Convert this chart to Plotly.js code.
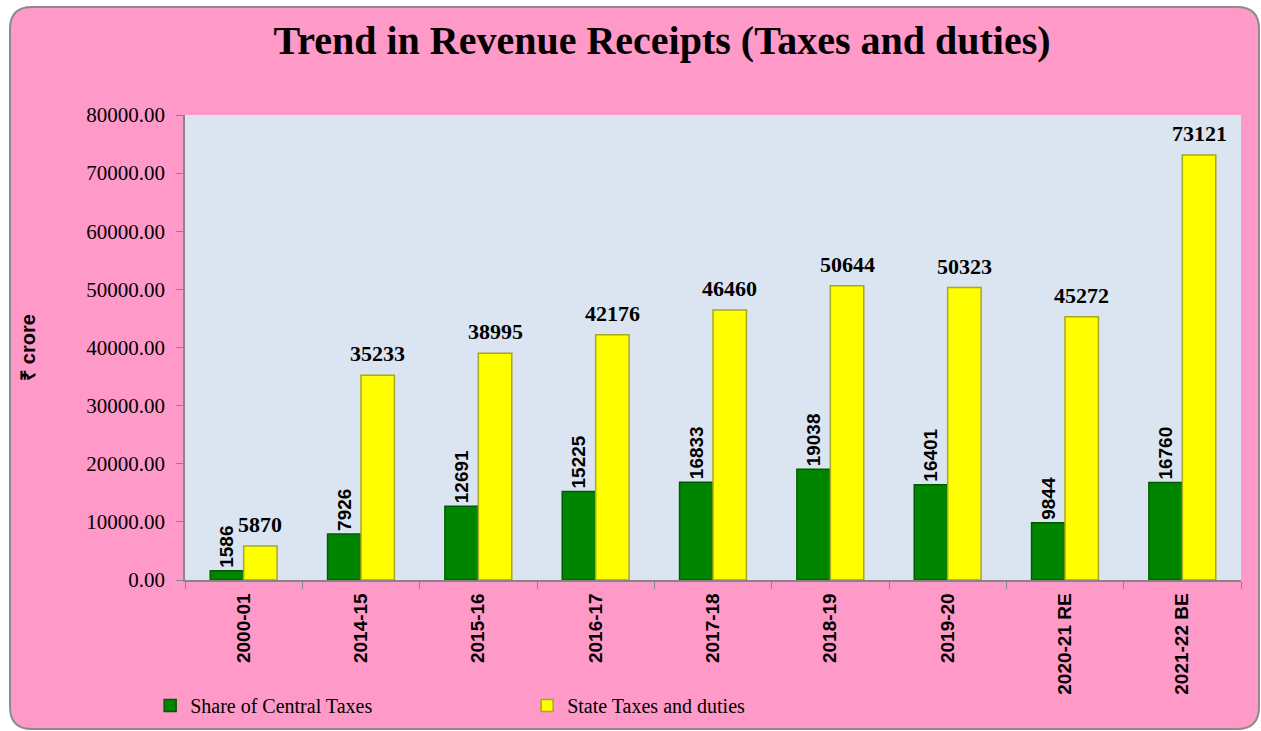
<!DOCTYPE html>
<html><head><meta charset="utf-8">
<script src="https://cdn.plot.ly/plotly-3.0.1.min.js"></script>
<style>html,body{margin:0;padding:0;background:#fff;}#chart{width:1261px;height:731px;}</style>
</head><body><div id="chart"></div>
<script>
const categories = ["2000-01","2014-15","2015-16","2016-17","2017-18","2018-19","2019-20","2020-21 RE","2021-22 BE"];
const centralShare = [1586,7926,12691,15225,16833,19038,16401,9844,16760];
const stateTaxes = [5870,35233,38995,42176,46460,50644,50323,45272,73121];
const seriesNames = ["Share of Central Taxes","State Taxes and duties"];

const traces = [
  {type:'bar', name:seriesNames[0], x:categories, y:centralShare,
   marker:{color:'#008500', line:{color:'#005a00', width:1.5}},
   text:centralShare.map(String), textposition:'outside', textangle:-90, constraintext:'none',
   textfont:{family:'Liberation Sans, Arial, sans-serif', size:19, color:'#000', weight:'bold'},
   cliponaxis:false, hoverinfo:'x+y'},
  {type:'bar', name:seriesNames[1], x:categories, y:stateTaxes,
   marker:{color:'#ffff00', line:{color:'#a8a820', width:1.5}},
   cliponaxis:false, hoverinfo:'x+y'}
];

const yellowLabels = categories.map((c,i)=>({
  x:c, y:stateTaxes[i], xref:'x', yref:'y', text:'<b>'+stateTaxes[i]+'</b>', showarrow:false,
  xanchor:'center', yanchor:'bottom', xshift:16.7, yshift:7,
  font:{family:'Liberation Serif, Times New Roman, serif', size:22, color:'#000'}
}));

const layout = {
  width:1261, height:731,
  paper_bgcolor:'rgba(0,0,0,0)',
  plot_bgcolor:'rgba(0,0,0,0)',
  margin:{l:185, r:20, t:115, b:151, autoexpand:false},
  barmode:'group', bargap:0.43, bargroupgap:0,
  showlegend:true,
  annotations:yellowLabels,
  title:{text:'<b>Trend in Revenue Receipts (Taxes and duties)</b>', x:0.525, xref:'container', xanchor:'center', y:0.945, yref:'container', yanchor:'middle',
    font:{family:'Liberation Serif, Times New Roman, serif', size:40, color:'#000'}},
  xaxis:{type:'category', tickson:'boundaries', ticks:'outside', ticklen:7, tickcolor:'#868686',
    showline:true, linecolor:'#868686', linewidth:1.5, showgrid:false, tickangle:-90, automargin:false,
    ticklabelstandoff:4,
    tickfont:{family:'Liberation Sans, Arial, sans-serif', size:19, color:'#000', weight:'bold'}},
  yaxis:{range:[0,80000], dtick:10000, tickformat:'.2f', ticks:'outside', ticklen:7, tickcolor:'#868686',
    showline:true, linecolor:'#868686', linewidth:1.5, showgrid:false, zeroline:false, automargin:false,
    ticklabelstandoff:7,
    tickfont:{family:'Liberation Serif, Times New Roman, serif', size:21, color:'#000'},
    title:{text:'<b>₹ crore</b>', standoff:45, font:{family:'Liberation Sans, Arial, sans-serif', size:20, color:'#000'}}},
  legend:{orientation:'h', x:-0.033, xanchor:'left', y:-0.27, yanchor:'middle',
    entrywidth:332, entrywidthmode:'pixels', itemwidth:30, bgcolor:'rgba(0,0,0,0)',
    font:{family:'Liberation Serif, Times New Roman, serif', size:20, color:'#000'}},
  shapes:[
    {type:'path', xref:'paper', yref:'paper', layer:'below', path:'',
     fillcolor:'#ff99c8', line:{color:'#8c8c8c', width:2}},
    {type:'rect', xref:'paper', yref:'paper', layer:'below', x0:0, x1:1, y0:0, y1:1,
     fillcolor:'#dbe5f1', line:{width:0}}
  ]
};
(function(){
  const W=1261,H=731,l=185,r=20,t=115,b=151;
  const pw=W-l-r, ph=H-t-b;
  const px=x=>((x-l)/pw).toFixed(5), py=y=>((H-b-y)/ph).toFixed(5);
  const x0=10,y0=7,x1=1259,y1=729,R=22;
  layout.shapes[0].path =
    `M ${px(x0+R)},${py(y0)} L ${px(x1-R)},${py(y0)} Q ${px(x1)},${py(y0)} ${px(x1)},${py(y0+R)} `+
    `L ${px(x1)},${py(y1-R)} Q ${px(x1)},${py(y1)} ${px(x1-R)},${py(y1)} `+
    `L ${px(x0+R)},${py(y1)} Q ${px(x0)},${py(y1)} ${px(x0)},${py(y1-R)} `+
    `L ${px(x0)},${py(y0+R)} Q ${px(x0)},${py(y0)} ${px(x0+R)},${py(y0)} Z`;
})();
Plotly.newPlot('chart', traces, layout, {displayModeBar:false});
</script></body></html>
